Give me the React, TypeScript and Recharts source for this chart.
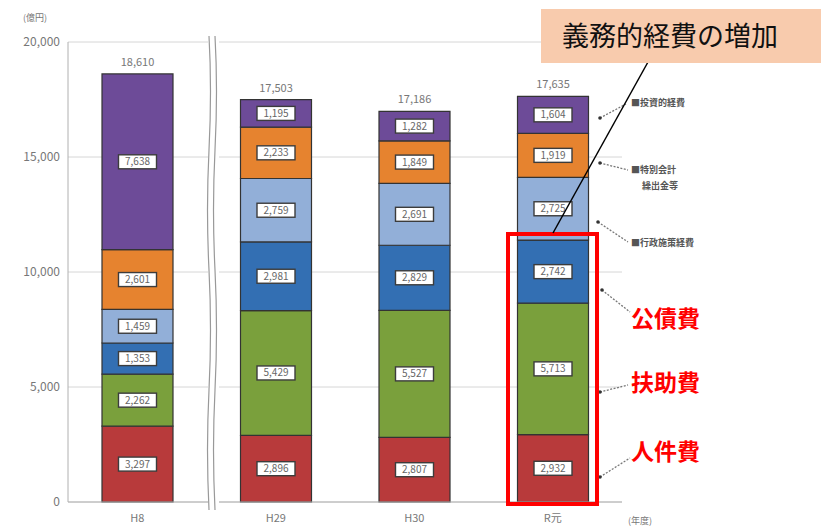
import React from 'react';
import { BarChart, Bar, XAxis, YAxis, CartesianGrid, LabelList } from 'recharts';

// 年度
const years: string[] = ['H8', 'H29', 'H30', 'R元'];

// 歳出の内訳（億円）
const personnel: number[] = [3297, 2896, 2807, 2932];     // 人件費
const welfare: number[] = [2262, 5429, 5527, 5713];       // 扶助費
const debt: number[] = [1353, 2981, 2829, 2742];          // 公債費
const adminPolicy: number[] = [1459, 2759, 2691, 2725];   // 行政施策経費
const transfers: number[] = [2601, 2233, 1849, 1919];     // 特別会計繰出金等
const investment: number[] = [7638, 1195, 1282, 1604];    // 投資的経費
const totals: number[] = [18610, 17503, 17186, 17635];

const yTicks: number[] = [0, 5000, 10000, 15000, 20000];

const series = [
  { key: 'personnel', name: '人件費', values: personnel, color: '#b83a3b' },
  { key: 'welfare', name: '扶助費', values: welfare, color: '#7aa03c' },
  { key: 'debt', name: '公債費', values: debt, color: '#336fb3' },
  { key: 'adminPolicy', name: '行政施策経費', values: adminPolicy, color: '#92afd8' },
  { key: 'transfers', name: '特別会計繰出金等', values: transfers, color: '#e6832f' },
  { key: 'investment', name: '投資的経費', values: investment, color: '#6d4b98' },
];

const data = years.map((year, i) => {
  const row: { [k: string]: string | number } = { year, total: totals[i] };
  series.forEach(s => {
    row[s.key] = s.values[i];
  });
  return row;
});

const fmt = (v: number) => Number(v).toLocaleString('en-US');

const FONT = '"Noto Sans CJK JP", "Noto Sans", sans-serif';

// 各区分の値ラベル（白い枠付き）
const SegmentLabel = (props: any) => {
  const x = Number(props.x);
  const y = Number(props.y);
  const w = Number(props.width);
  const h = Number(props.height);
  const cx = x + w / 2;
  const cy = y + h / 2;
  return (
    <g>
      <rect x={cx - 19} y={cy - 7} width={38} height={14} fill="#ffffff" stroke="#3c3c3c" strokeWidth={1.4} />
      <text x={cx} y={cy + 3.5} textAnchor="middle" fontSize={10} fill="#666" fontFamily={FONT}>
        {fmt(props.value)}
      </text>
    </g>
  );
};

const App: React.FC = () => {
  return (
    <div style={{ position: 'absolute', left: 0, top: 0, width: 821, height: 532, background: '#fff', fontFamily: FONT }}>
      <BarChart
        width={821}
        height={532}
        data={data}
        margin={{ top: 42, right: 199, bottom: 0, left: 8 }}
        barSize={71}
      >
        <CartesianGrid vertical={false} stroke="#d6d6d6" />
        <XAxis
          dataKey="year"
          height={30}
          axisLine={{ stroke: '#b0b0b0' }}
          tickLine={false}
          tick={{ fontSize: 11, fill: '#777' }}
          tickMargin={6}
        />
        <YAxis
          width={60}
          domain={[0, 20000]}
          ticks={yTicks}
          tickFormatter={fmt}
          axisLine={{ stroke: '#b0b0b0' }}
          tickLine={false}
          tick={{ fontSize: 12, fill: '#777' }}
        />
        {series.map((s, idx) => (
          <Bar
            key={s.key}
            dataKey={s.key}
            name={s.name}
            stackId="a"
            fill={s.color}
            stroke="#333"
            strokeWidth={1.2}
            isAnimationActive={false}
          >
            <LabelList dataKey={s.key} content={<SegmentLabel />} />
            {idx === series.length - 1 && (
              <LabelList dataKey="total" position="top" offset={8} formatter={(v: any) => fmt(v)} fontSize={11} fill="#777" />
            )}
          </Bar>
        ))}
      </BarChart>

      <svg width={821} height={532} style={{ position: 'absolute', left: 0, top: 0, pointerEvents: 'none' }}>
        {/* 単位 */}
        <text x={35} y={21} textAnchor="middle" fontSize={9} fill="#777" fontFamily={FONT}>(億円)</text>
        <text x={640} y={524} textAnchor="middle" fontSize={9} fill="#777" fontFamily={FONT}>(年度)</text>

        {/* 省略記号（波線） */}
        <rect x={208} y={36} width={11} height={474} fill="#fff" />
        <path d="M209,36 Q212,90 209,150 T209,270 T209,390 T209,510" stroke="#999" strokeWidth={1.2} fill="none" />
        <path d="M215,36 Q218,90 215,150 T215,270 T215,390 T215,510" stroke="#999" strokeWidth={1.2} fill="none" />

        {/* 右側の凡例 */}
        <g fontFamily={FONT} fontSize={9} fill="#555" fontWeight="bold">
          <text x={631} y={106}>■投資的経費</text>
          <text x={631} y={173}>■特別会計</text>
          <text x={642} y={189}>繰出金等</text>
          <text x={631} y={246}>■行政施策経費</text>
        </g>
        <g stroke="#777" strokeWidth={1.3} strokeDasharray="2 1.5" fill="none">
          <line x1={600} y1={118} x2={626} y2={104} />
          <line x1={600} y1={163} x2={628} y2={170} />
          <line x1={598} y1={222} x2={628} y2={242} />
          <line x1={602} y1={290} x2={630} y2={312} />
          <line x1={600} y1={392} x2={628} y2={385} />
          <line x1={600} y1={477} x2={630} y2={458} />
        </g>
        <g fill="#333">
          <circle cx={600} cy={118} r={1.8} />
          <circle cx={600} cy={163} r={1.8} />
          <circle cx={598} cy={222} r={1.8} />
          <circle cx={602} cy={290} r={1.8} />
          <circle cx={600} cy={392} r={1.8} />
          <circle cx={600} cy={477} r={1.8} />
        </g>

        {/* 義務的経費の強調 */}
        <rect x={508} y={234} width={89} height={270} fill="none" stroke="#ff0000" strokeWidth={4} />
        <g fontFamily={FONT} fontSize={23} fontWeight="bold" fill="#ff0000">
          <text x={631} y={327}>公債費</text>
          <text x={631} y={391}>扶助費</text>
          <text x={631} y={460}>人件費</text>
        </g>

        {/* 注記 */}
        <line x1={648} y1={62} x2={553} y2={233} stroke="#000" strokeWidth={1.5} />
        <rect x={541} y={9} width={280} height={54} fill="#f8cbad" />
        <text x={562} y={46} fontFamily={FONT} fontSize={27} fill="#111">義務的経費の増加</text>
      </svg>
    </div>
  );
};

export default App;
